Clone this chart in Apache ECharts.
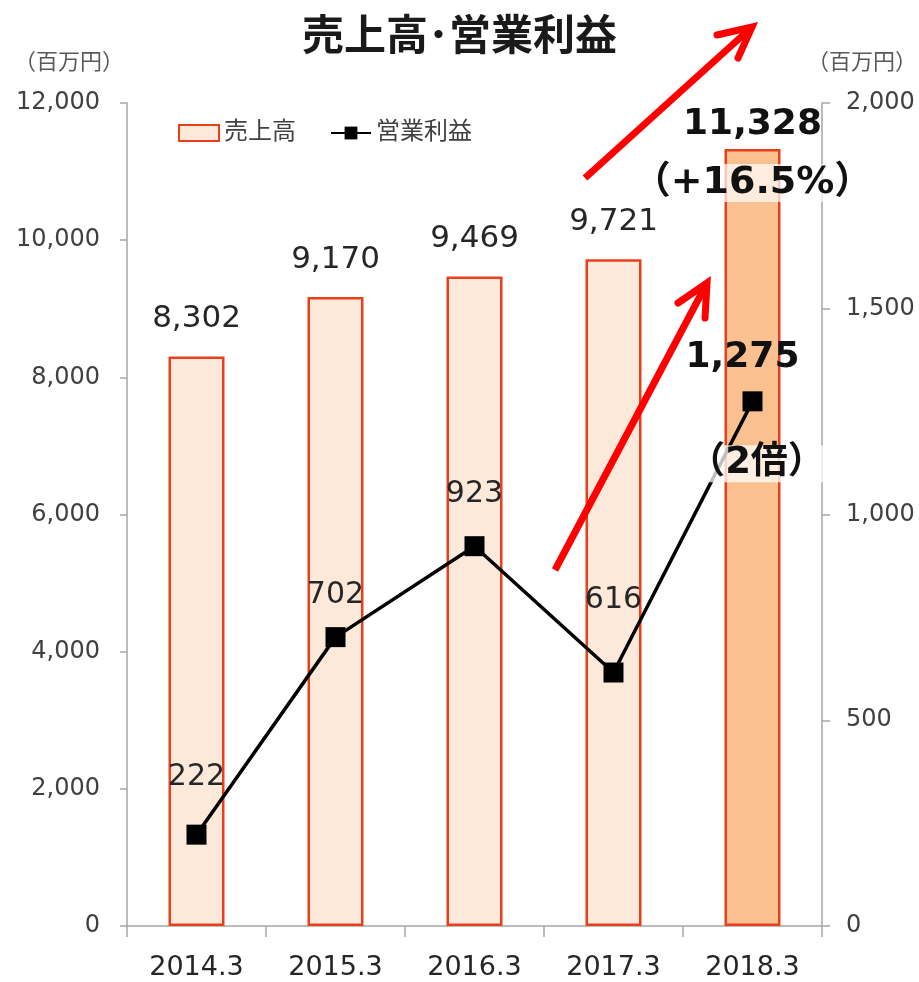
<!DOCTYPE html>
<html>
<head>
<meta charset="utf-8">
<script src="https://cdn.jsdelivr.net/npm/echarts@6/dist/echarts.min.js"></script>
<style>html,body{margin:0;padding:0;background:#fff;}#c{width:919px;height:982px;}</style>
</head>
<body>
<div id="c"></div>
<script>
const categories = ['2014.3', '2015.3', '2016.3', '2017.3', '2018.3'];
const salesValues = [8302, 9170, 9469, 9721, 11328];
const profitValues = [222, 702, 923, 616, 1275];
const leftTicks = [0, 2000, 4000, 6000, 8000, 10000, 12000];
const rightTicks = [0, 500, 1000, 1500, 2000];
const salesName = '売上高';
const profitName = '営業利益';
const titleText = '売上高･営業利益';
const unitText = '（百万円）';
const salesGrowthText = '（+16.5%）';
const profitGrowthText = '（2倍）';

const FONT = "'DejaVu Sans', 'Noto Sans CJK JP', sans-serif";
const lastIdx = salesValues.length - 1;
const fmt = v => v.toLocaleString('en-US');
const profitLabelDist = [32, 17, 27, 47];

const chart = echarts.init(document.getElementById('c'), null, {renderer: 'canvas'});

const barData = salesValues.map((v, i) => {
  if (i !== lastIdx) return v;
  return {
    value: v,
    itemStyle: {color: '#fac090'},
    label: {
      position: 'top', distance: 0, offset: [0, 58],
      formatter: '{a|' + fmt(v) + '}\n{g| }\n{b|' + salesGrowthText + '}',
      rich: {
        a: {fontSize: 36, fontWeight: 'bold', lineHeight: 44, color: '#111', fontFamily: FONT},
        g: {fontSize: 10, lineHeight: 12},
        b: {fontSize: 38, fontWeight: 'bold', lineHeight: 48, color: '#111', fontFamily: FONT,
            backgroundColor: 'rgba(255,255,255,0.7)'}
      }
    }
  };
});

const lineData = profitValues.map((v, i) => {
  if (i !== lastIdx) return {value: v, label: {distance: profitLabelDist[i]}};
  return {
    value: v,
    label: {
      position: 'inside', offset: [-3, 11],
      formatter: '{a|' + fmt(v) + '}\n{g| }\n{b|' + profitGrowthText + '}',
      rich: {
        a: {fontSize: 36, fontWeight: 'bold', lineHeight: 40, color: '#111', fontFamily: FONT, padding: [0, 14, 0, 0]},
        g: {fontSize: 10, lineHeight: 63},
        b: {fontSize: 37, fontWeight: 'bold', lineHeight: 46, color: '#111', fontFamily: FONT,
            padding: [0, 0, 0, 14], backgroundColor: 'rgba(255,255,255,0.75)'}
      }
    }
  };
});

function arrow(x1, y1, x2, y2, w1, w2) {
  return [
    {type: 'polyline', z: 100, shape: {points: [[x1, y1], [x2, y2]]},
     style: {stroke: '#ff0000', lineWidth: 7, lineCap: 'butt', fill: null}},
    {type: 'polyline', z: 100, shape: {points: [w1, [x2, y2], w2]},
     style: {stroke: '#ff0000', lineWidth: 7, lineCap: 'round', lineJoin: 'miter', fill: null}}
  ];
}

const option = {
  backgroundColor: '#fff',
  animation: false,
  textStyle: {fontFamily: FONT},
  title: {
    text: titleText, left: 'center', top: 13,
    textStyle: {fontSize: 42, fontWeight: 'bold', color: '#1a1a1a', fontFamily: FONT}
  },
  legend: {
    left: 173, top: 116, itemWidth: 40, itemHeight: 16, itemGap: 34,
    textStyle: {fontSize: 24, color: '#404040', fontFamily: FONT},
    data: [{name: salesName, icon: 'rect'}, {name: profitName}]
  },
  grid: {left: 127, right: 97, top: 103, bottom: 56, containLabel: false},
  xAxis: {
    type: 'category', data: categories,
    axisLine: {show: true, lineStyle: {color: '#a6a6a6', width: 1.5}},
    axisTick: {show: true, length: 11, lineStyle: {color: '#a6a6a6', width: 1.5}},
    axisLabel: {fontSize: 27, color: '#262626', margin: 28, fontFamily: FONT}
  },
  yAxis: [
    {
      type: 'value', position: 'left', min: leftTicks[0], max: leftTicks[leftTicks.length - 1],
      interval: leftTicks[1] - leftTicks[0],
      axisLine: {show: true, lineStyle: {color: '#a6a6a6', width: 1.5}},
      axisTick: {show: true, length: 7, lineStyle: {color: '#a6a6a6', width: 1.5}},
      splitLine: {show: false},
      axisLabel: {fontSize: 24, color: '#404040', margin: 27, formatter: v => fmt(v), fontFamily: FONT}
    },
    {
      type: 'value', position: 'right', min: rightTicks[0], max: rightTicks[rightTicks.length - 1],
      interval: rightTicks[1] - rightTicks[0],
      axisLine: {show: true, lineStyle: {color: '#a6a6a6', width: 1.5}},
      axisTick: {show: true, length: 8, lineStyle: {color: '#a6a6a6', width: 1.5}},
      splitLine: {show: false},
      axisLabel: {fontSize: 24, color: '#404040', margin: 24, formatter: v => fmt(v), fontFamily: FONT}
    }
  ],
  series: [
    {
      name: salesName, type: 'bar', yAxisIndex: 0, barWidth: 56, data: barData,
      itemStyle: {color: '#fde9d9', borderColor: '#e8401c', borderWidth: 2.5},
      label: {show: true, position: 'top', distance: 22, fontSize: 31, color: '#262626',
              fontFamily: FONT, formatter: p => fmt(p.value)},
      z: 2
    },
    {
      name: profitName, type: 'line', yAxisIndex: 1, data: lineData,
      symbol: 'rect', symbolSize: 20, showAllSymbol: true,
      lineStyle: {color: '#000', width: 3.5},
      itemStyle: {color: '#000'},
      label: {show: true, position: 'top', fontSize: 30, color: '#262626',
              fontFamily: FONT, formatter: p => fmt(p.value)},
      z: 5
    }
  ],
  graphic: [
    {type: 'text', left: 14, top: 52, style: {text: unitText, fontSize: 22, fill: '#595959', fontFamily: FONT}},
    {type: 'text', right: 2, top: 52, style: {text: unitText, fontSize: 22, fill: '#595959', fontFamily: FONT}},
    ...arrow(585, 178, 752, 27, [717, 35], [738, 58]),
    ...arrow(555, 570, 707, 283, [678, 303], [705, 318])
  ]
};
chart.setOption(option);
</script>
</body>
</html>
